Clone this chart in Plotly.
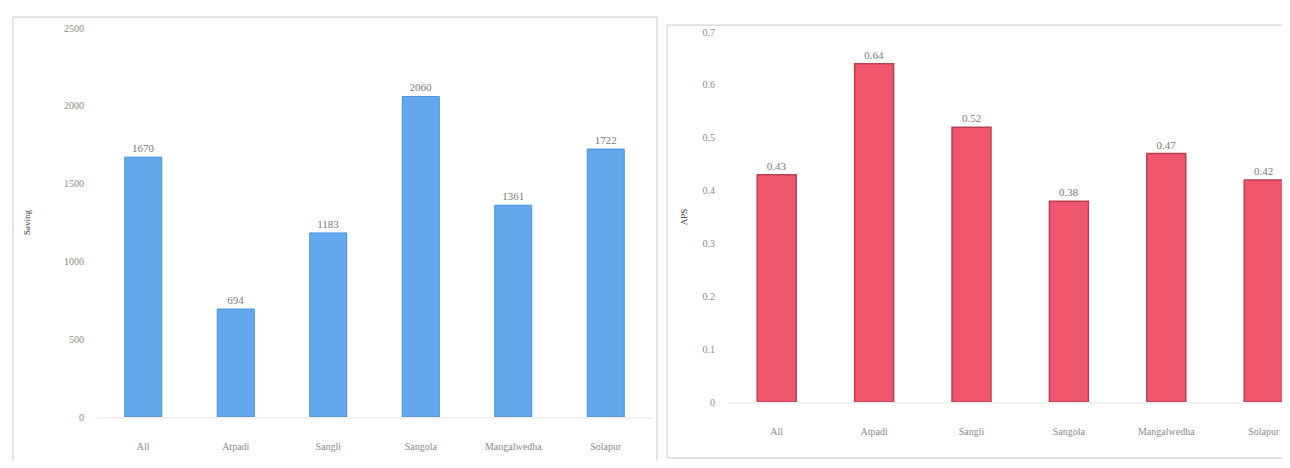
import plotly.graph_objects as go

categories = ["All", "Atpadi", "Sangli", "Sangola", "Mangalwedha", "Solapur"]
saving = [1670, 694, 1183, 2060, 1361, 1722]
aps = [0.43, 0.64, 0.52, 0.38, 0.47, 0.42]
saving_ticks = [0, 500, 1000, 1500, 2000, 2500]
aps_ticks = [0, 0.1, 0.2, 0.3, 0.4, 0.5, 0.6, 0.7]

# page body has an 8px margin; figure sized so it fits the window exactly
OFF = 8
W, H = 1290 - 2 * OFF, 468 - 2 * OFF
FONT = "Liberation Serif"
TICK_COL = "#8a8a8a"


def px(x):
    return (x - OFF) / W


def py(y):
    return 1 - (y - OFF) / H


fig = go.Figure()
fig.add_trace(go.Bar(
    x=categories, y=saving, xaxis="x", yaxis="y",
    marker=dict(color="#62a8ec", line=dict(color="#4a8fd4", width=1)),
    width=0.4, text=[str(v) for v in saving], textposition="outside",
    textfont=dict(size=11, color="#7a7a7a", family=FONT), cliponaxis=False,
    showlegend=False))
fig.add_trace(go.Bar(
    x=categories, y=aps, xaxis="x2", yaxis="y2",
    marker=dict(color="#f0566e", line=dict(color="#b8404f", width=1.5)),
    width=0.4, text=[f"{v:.2f}" for v in aps], textposition="outside",
    textfont=dict(size=11, color="#7a7a7a", family=FONT), cliponaxis=False,
    showlegend=False))

axis_common = dict(showgrid=False, zeroline=False, showline=False, automargin=False,
                   tickfont=dict(size=10, color=TICK_COL, family=FONT), fixedrange=True)

fig.update_layout(
    width=W, height=H,
    margin=dict(l=0, r=0, t=0, b=0),
    paper_bgcolor="white", plot_bgcolor="white",
    font=dict(family=FONT),
    xaxis=dict(domain=[px(97), px(652)], range=[-0.5, 5.5], anchor="y",
               ticks="", ticklabelstandoff=22, **axis_common),
    yaxis=dict(domain=[py(417), py(28)], range=[0, 2500], tickvals=saving_ticks,
               anchor="x", ticks="", ticklabelstandoff=12,
               title=dict(text="Saving", font=dict(size=9, color="#333", family=FONT), standoff=31),
               **axis_common),
    xaxis2=dict(domain=[px(728), 1.0], range=[-0.5, -0.5 + (1282 - 728) / 97.4], anchor="y2",
                ticks="", ticklabelstandoff=22, **axis_common),
    yaxis2=dict(domain=[py(402), py(32)], range=[0, 0.7], tickvals=aps_ticks,
                ticktext=["0", "0.1", "0.2", "0.3", "0.4", "0.5", "0.6", "0.7"],
                anchor="x2", ticks="", ticklabelstandoff=12,
                title=dict(text="APS", font=dict(size=9, color="#333", family=FONT), standoff=13),
                **axis_common),
    shapes=[
        dict(type="rect", xref="paper", yref="paper", x0=px(13), x1=px(657),
             y0=py(480), y1=py(17), line=dict(color="#c8c8c8", width=1)),
        dict(type="rect", xref="paper", yref="paper", x0=px(667), x1=px(1300),
             y0=py(458), y1=py(25), line=dict(color="#c8c8c8", width=1)),
        dict(type="line", xref="paper", yref="paper", x0=px(97), x1=px(652),
             y0=py(418), y1=py(418), line=dict(color="#e4e4e4", width=1)),
        dict(type="line", xref="paper", yref="paper", x0=px(728), x1=1,
             y0=py(403), y1=py(403), line=dict(color="#e4e4e4", width=1)),
    ],
)

fig.write_html("out.html")
